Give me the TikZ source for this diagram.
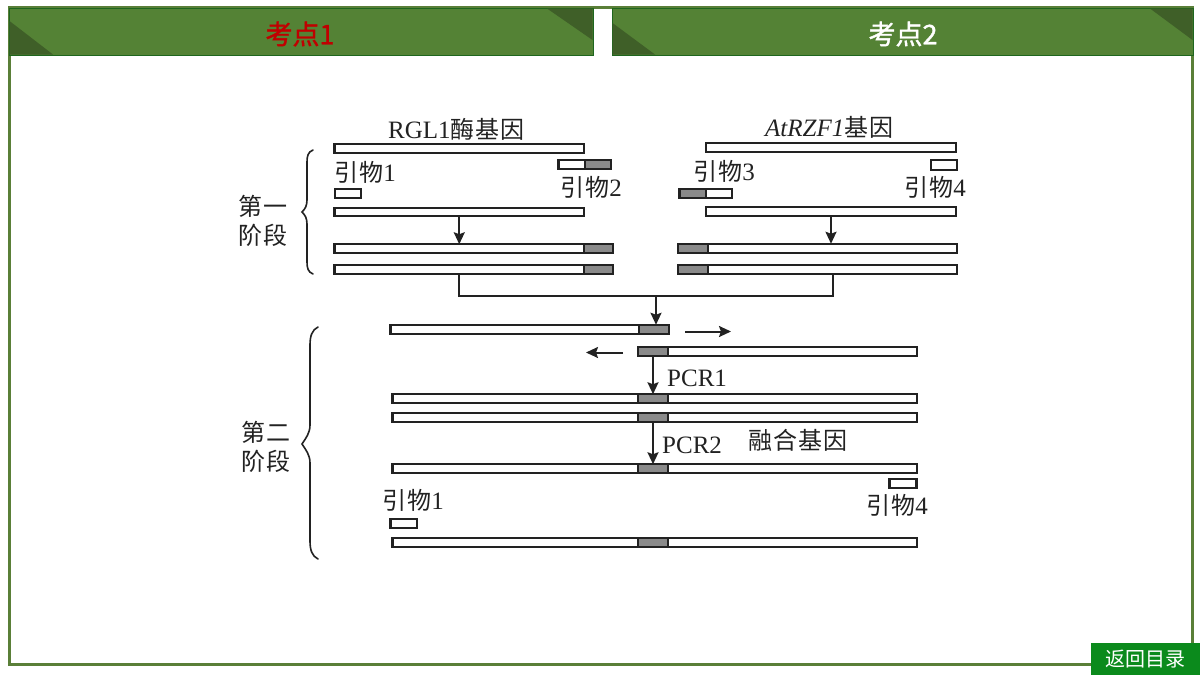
\documentclass[tikz,border=0pt]{standalone}
\usepackage{fontspec}
\setmainfont{Liberation Serif}
\newfontfamily\cjk[LetterSpace=4.5]{Noto Sans CJK SC}
\newfontfamily\cjkhead{Noto Sans CJK SC}
\newfontfamily\cjkfat[FakeBold=1.4]{Noto Sans CJK SC}
\newcommand{\lat}{\fontsize{25}{27}\selectfont\rmfamily}
\newcommand{\dg}[1]{{\lat #1}}
\usetikzlibrary{arrows.meta}
\definecolor{tabfill}{HTML}{548235}
\definecolor{tabdark}{HTML}{3F5F28}
\definecolor{tabedge}{HTML}{1E661E}
\definecolor{framecol}{HTML}{5A7F38}
\definecolor{btn}{HTML}{0B8A1C}
\definecolor{ink}{HTML}{222222}
\definecolor{dna}{HTML}{8A8A8A}
\definecolor{redtxt}{HTML}{C00000}
\tikzset{
  wbar/.style={draw=ink,line width=2.2pt,fill=white,inner sep=0pt,outer sep=0pt},
  gbar/.style={wbar,fill=dna},
  wire/.style={draw=ink,line width=2pt},
  flow/.style={wire,-{Stealth[length=12pt,width=11pt,inset=2pt]}},
  lbl/.style={inner sep=0pt,text=ink,font=\fontsize{24}{26}\selectfont\cjk},
  tab/.style={fill=tabfill,draw=tabedge,line width=1pt,inner sep=0pt,outer sep=0pt,minimum height=47pt},
  corner/.style={fill=tabdark},
  headtxt/.style={inner sep=0pt,font=\fontsize{27}{30}\selectfont\cjkfat},
  brace/.style={draw=ink,line width=1.6pt,line cap=round}
}
\newcommand{\gb}[6]{%
  \pgfmathsetmacro{\gbw}{#4-#3}\pgfmathsetmacro{\gbh}{#6-#5-1.5}%
  \pgfmathsetmacro{\gbx}{(#4+#3)/2}\pgfmathsetmacro{\gby}{(#6+#5)/2}%
  \node[#1,minimum width=\gbw pt,minimum height=\gbh pt] (#2) at (\gbx,\gby) {};}
\begin{document}
\begin{tikzpicture}[x=1pt,y=-1pt]
\useasboundingbox (0,0) rectangle (1200,675);
\fill[white] (0,0) rectangle (1200,675);
% frame
\draw[framecol,line width=3pt] (9,7.5) rectangle (1192,664);
\fill[white] (594,9) rectangle (611,60);
% tabs
\node[tab,minimum width=584pt] (tabA) at (301,31.5) {};
\node[tab,minimum width=581pt] (tabB) at (902.5,31.5) {};
\fill[corner] (9.5,21) -- (53,54.5) -- (9.5,54.5) -- cycle;
\fill[corner] (547,8.5) -- (592.5,8.5) -- (592.5,40) -- cycle;
\fill[corner] (612.5,23) -- (655,54.5) -- (612.5,54.5) -- cycle;
\fill[corner] (1150,8.5) -- (1192.5,8.5) -- (1192.5,40) -- cycle;
\node[headtxt,text=redtxt] (tA) at (300,34) {考点1};
\node[headtxt,text=white] (tB) at (903,34) {考点2};
\node[fill=btn,inner sep=0pt,minimum width=109pt,minimum height=32pt,text=white,font=\fontsize{20}{22}\selectfont\cjkhead] (back) at (1145.5,659) {返回目录};
% left gene, first stage
\gb{wbar}{L1}{334.5}{584}{143.5}{154}
\gb{wbar}{P2w}{558.5}{585}{159.5}{170}
\gb{gbar}{P2g}{585}{611}{159.5}{170}
\gb{wbar}{P1}{335}{361}{188.5}{199}
\gb{wbar}{L2}{334.5}{584}{207}{217}
\gb{wbar}{L3w}{334.5}{584}{243.5}{254}
\gb{gbar}{L3g}{584}{613}{243.5}{254}
\gb{wbar}{L4w}{334.5}{584}{264}{275}
\gb{gbar}{L4g}{584}{613}{264}{275}
% right gene, first stage
\gb{wbar}{R1}{706}{956}{142.5}{153}
\gb{wbar}{P4}{931}{957}{159.5}{170.5}
\gb{gbar}{P3g}{679.5}{706}{188}{199}
\gb{wbar}{P3w}{706}{732}{188}{199}
\gb{wbar}{R2}{706}{956}{206.5}{217}
\gb{wbar}{R3w}{708}{957}{243}{254}
\gb{gbar}{R3g}{678}{708}{243}{254}
\gb{wbar}{R4w}{708}{957}{264}{275}
\gb{gbar}{R4g}{678}{708}{264}{275}
% second stage
\gb{wbar}{Aw}{390.5}{639}{324}{335}
\gb{gbar}{Ag}{639}{669}{324}{335}
\gb{gbar}{Bg}{638}{668}{346.5}{357}
\gb{wbar}{Bw}{668}{917}{346.5}{357}
\foreach \nm/\ya/\yb in {C/393.5/404,D/412.5/423,E/463.5/474,F/537.5/548}{
  \gb{wbar}{\nm l}{392.5}{638}{\ya}{\yb}
  \gb{gbar}{\nm g}{638}{668}{\ya}{\yb}
  \gb{wbar}{\nm r}{668}{917}{\ya}{\yb}
}
\gb{wbar}{P4b}{889.5}{916.5}{478}{489}
\gb{wbar}{P1b}{390.5}{417}{518.5}{529}
% connectors
\coordinate (J) at (656,296);
\coordinate (Ra) at (685,331.5);
\coordinate (Rb) at (731,331.5);
\coordinate (La) at (623,352.5);
\coordinate (Lb) at (586,352.5);
\draw[flow] (L2.south) -- (L2.south |- L3w.north);
\draw[flow] (R2.south) -- (R2.south |- R3w.north);
\draw[wire] (L4w.south) |- (J);
\draw[wire] (R4w.south) |- (J);
\draw[flow] (J) -- (J |- Ag.north);
\draw[flow] (Ra) -- (Rb);
\draw[flow] (La) -- (Lb);
\draw[flow] (Bg.south) -- (Cg.north);
\draw[flow] (Dg.south) -- (Eg.north);
% braces
\draw[brace] (313,150) .. controls (308,152) and (307,156) .. (307,162) -- (307,200) .. controls (307,206) and (305,209) .. (302,212) .. controls (305,215) and (307,218) .. (307,224) -- (307,262) .. controls (307,268) and (308,272) .. (313,274);
\draw[brace] (318,327) .. controls (312,330) and (310,336) .. (310,345) -- (310,425) .. controls (310,433) and (306,438) .. (302,444) .. controls (306,450) and (310,455) .. (310,463) -- (310,541) .. controls (310,550) and (312,556) .. (318,559);
% labels
\node[lbl,anchor=west] (t1) at (388,129) {\dg{RGL1}酶基因};
\node[lbl,anchor=west] (t2) at (765,127) {\dg{\itshape AtRZF1}基因};
\node[lbl,anchor=west] (y1) at (334,172) {引物\dg{1}};
\node[lbl,anchor=west] (y2) at (560,187) {引物\dg{2}};
\node[lbl,anchor=west] (y3) at (693,171) {引物\dg{3}};
\node[lbl,anchor=west] (y4) at (904,187) {引物\dg{4}};
\node[lbl,anchor=west] (y1b) at (382,500) {引物\dg{1}};
\node[lbl,anchor=west] (y4b) at (866,505) {引物\dg{4}};
\node[lbl,anchor=west] (pcr1) at (667,378) {\dg{PCR1}};
\node[lbl,anchor=west] (pcr2) at (662,445) {\dg{PCR2}};
\node[lbl,anchor=west] (fus) at (748,440) {融合基因};
\node[lbl,anchor=west] (s1a) at (238,206) {第一};
\node[lbl,anchor=west] (s1b) at (238,235) {阶段};
\node[lbl,anchor=west] (s2a) at (241,432) {第二};
\node[lbl,anchor=west] (s2b) at (241,461) {阶段};
\end{tikzpicture}
\end{document}
